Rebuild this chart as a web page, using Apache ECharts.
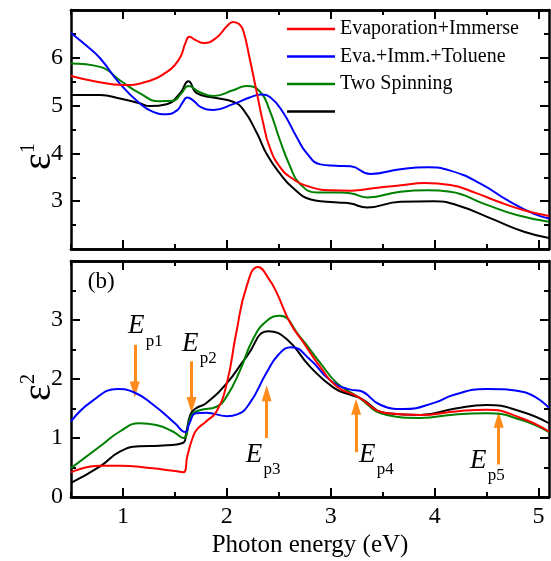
<!DOCTYPE html>
<html lang="en">
<head>
    <meta charset="UTF-8">
    <title>Dielectric function</title>
    <style>
        html, body { margin: 0; padding: 0; background: #fff; }
    </style>
</head>
<body>
<div id="main" style="width: 551px;height:561px;"></div>
<script type="text/javascript" src="https://cdn.jsdelivr.net/npm/echarts@6/dist/echarts.min.js"></script>
<script>
    // legend names (the 4th one is blank in the figure)
    var names = ['Evaporation+Immerse', 'Eva.+Imm.+Toluene', 'Two Spinning', ' '];
    var colors = ['#ff0000', '#0000ff', '#008000', '#000000'];

    // epsilon 1, [photon energy, value]
    var e1Red = [[0.5,5.62],[0.75,5.5],[1.0,5.43],[1.26,5.52],[1.42,5.7],[1.5,5.85],[1.56,6.05],[1.6,6.3],[1.64,6.44],
        [1.7,6.37],[1.78,6.31],[1.9,6.42],[2.0,6.66],[2.06,6.75],[2.12,6.7],[2.16,6.55],[2.22,5.98],[2.29,5.25],
        [2.35,4.63],[2.41,4.14],[2.51,3.72],[2.64,3.46],[2.8,3.3],[3.0,3.23],[3.2,3.22],[3.41,3.27],[3.7,3.34],
        [3.9,3.38],[4.15,3.34],[4.4,3.17],[4.6,3.0],[4.86,2.81],[5.1,2.69]];
    var e1Blue = [[0.5,6.52],[0.65,6.25],[0.78,5.99],[0.97,5.46],[1.16,5.05],[1.29,4.87],[1.42,4.82],[1.52,4.9],
        [1.57,5.05],[1.62,5.17],[1.68,5.1],[1.75,4.97],[1.87,4.91],[2.06,5.03],[2.22,5.17],[2.33,5.23],[2.42,5.17],
        [2.54,4.86],[2.67,4.35],[2.77,4.0],[2.9,3.77],[3.05,3.74],[3.19,3.73],[3.38,3.57],[3.67,3.67],[3.93,3.71],
        [4.15,3.64],[4.44,3.37],[4.7,3.02],[4.95,2.74],[5.1,2.64]];
    var e1Green = [[0.5,5.88],[0.78,5.81],[0.97,5.53],[1.16,5.26],[1.35,5.09],[1.48,5.1],[1.56,5.25],[1.63,5.41],
        [1.74,5.28],[1.87,5.2],[2.06,5.32],[2.19,5.41],[2.32,5.29],[2.41,4.91],[2.51,4.28],[2.61,3.72],[2.7,3.37],
        [2.87,3.18],[3.09,3.18],[3.2,3.16],[3.35,3.08],[3.67,3.2],[3.93,3.23],[4.15,3.2],[4.47,2.95],[4.79,2.71],
        [5.1,2.57]];
    var e1Black = [[0.5,5.22],[0.78,5.22],[0.97,5.15],[1.16,5.05],[1.26,4.99],[1.42,5.03],[1.55,5.26],[1.63,5.51],
        [1.71,5.26],[1.87,5.17],[2.06,5.08],[2.16,4.91],[2.29,4.42],[2.38,4.0],[2.51,3.58],[2.64,3.27],[2.8,3.04],
        [2.96,2.99],[3.1,2.97],[3.19,2.95],[3.35,2.87],[3.67,2.99],[3.99,3.0],[4.21,2.92],[4.54,2.64],[4.86,2.36],
        [5.1,2.23]];

    // epsilon 2
    var e2Red = [[0.5,0.42],[0.78,0.53],[0.97,0.53],[1.26,0.49],[1.5,0.44],[1.58,0.42],[1.62,0.7],[1.67,1.0],
        [1.71,1.14],[1.8,1.28],[1.9,1.45],[2.0,1.93],[2.09,2.78],[2.19,3.57],[2.3,3.9],[2.41,3.68],[2.48,3.46],
        [2.61,2.95],[2.74,2.61],[2.9,2.2],[3.06,1.87],[3.25,1.71],[3.54,1.42],[3.86,1.39],[4.2,1.45],[4.5,1.48],
        [4.83,1.34],[5.1,1.11]];
    var e2Blue = [[0.5,1.28],[0.7,1.62],[0.95,1.83],[1.1,1.78],[1.3,1.55],[1.5,1.25],[1.6,1.1],[1.64,1.25],
        [1.7,1.42],[1.8,1.43],[2.0,1.37],[2.1,1.4],[2.22,1.59],[2.38,2.1],[2.5,2.42],[2.62,2.54],[2.8,2.33],
        [3.0,1.97],[3.19,1.82],[3.28,1.8],[3.48,1.56],[3.7,1.49],[4.0,1.6],[4.18,1.73],[4.5,1.83],[4.83,1.79],
        [5.1,1.51]];
    var e2Green = [[0.5,0.49],[0.78,0.86],[0.97,1.11],[1.16,1.25],[1.32,1.22],[1.48,1.11],[1.58,1.0],[1.66,1.39],
        [1.74,1.47],[1.9,1.53],[2.0,1.71],[2.13,2.16],[2.25,2.67],[2.38,2.98],[2.51,3.07],[2.7,2.72],[2.9,2.27],
        [3.06,1.93],[3.25,1.71],[3.54,1.39],[3.86,1.34],[4.2,1.4],[4.5,1.42],[4.83,1.31],[5.1,1.1]];
    var e2Black = [[0.5,0.24],[0.78,0.52],[0.97,0.77],[1.16,0.86],[1.35,0.87],[1.58,0.92],[1.61,1.1],[1.65,1.4],
        [1.7,1.5],[1.8,1.59],[2.0,1.93],[2.19,2.38],[2.4,2.81],[2.58,2.67],[2.8,2.21],[3.03,1.85],[3.19,1.73],
        [3.28,1.68],[3.54,1.42],[3.86,1.39],[4.2,1.5],[4.5,1.56],[4.83,1.45],[5.1,1.25]];

    // tick values on x
    var xMajor = [1, 2, 3, 4, 5];
    var xMinor = [0.5, 1.5, 2.5, 3.5, 4.5];

    // E_p markers in the lower panel: arrow x, arrow start y, arrow tip y, label position
    var epSubs = ['p1', 'p2', 'p3', 'p4', 'p5'];
    var epArrowX = [1.114, 1.66, 2.383, 3.244, 4.616];
    var epArrowFrom = [2.58, 2.30, 1.0, 0.76, 0.55];
    var epArrowTo = [1.82, 1.56, 1.76, 1.53, 1.31];
    var epLabelX = [1.127, 1.648, 2.26, 3.35, 4.42];
    var epLabelY = [2.895, 2.60, 0.717, 0.72, 0.615];

    var FONT = 'Liberation Serif';
    var orange = '#ff8c1a';

    var myChart = echarts.init(document.getElementById('main'));

    function xAxisFor(g, pos, vals, len, withLabels) {
        return {
            type: 'value', gridIndex: g, position: pos, min: 0.5, max: 5.1,
            name: withLabels && g === 1 ? 'Photon energy (eV)' : '',
            nameLocation: 'middle', nameGap: 36,
            nameTextStyle: {fontFamily: FONT, fontSize: 25, color: '#000'},
            axisLine: {show: true, onZero: false, lineStyle: {color: '#000', width: 2.5}},
            axisTick: {show: true, inside: true, length: len, customValues: vals, lineStyle: {color: '#000', width: 2}},
            axisLabel: {show: withLabels && g === 1, customValues: xMajor, margin: 8,
                fontFamily: FONT, fontSize: 24, color: '#000'},
            splitLine: {show: false}
        };
    }

    function yAxisFor(g, pos, min, max, name, pad) {
        var left = pos === 'left';
        return {
            type: 'value', gridIndex: g, position: pos, min: min, max: max, interval: 1,
            name: left ? name : '',
            nameLocation: 'middle', nameRotate: 90, nameGap: 12, nameMoveOverlap: false,
            nameTextStyle: {
                color: '#000', padding: pad,
                rich: {
                    a: {fontFamily: FONT, fontSize: 40, color: '#000'},
                    b: {fontFamily: FONT, fontSize: 20, color: '#000', verticalAlign: 'top'}
                }
            },
            axisLine: {show: true, onZero: false, lineStyle: {color: '#000', width: 2.5}},
            axisTick: {show: true, inside: true, length: 9, lineStyle: {color: '#000', width: 2}},
            minorTick: {show: true, splitNumber: 2, length: 5, lineStyle: {color: '#000', width: 2}},
            axisLabel: {show: left, showMinLabel: min !== 2, showMaxLabel: false, margin: 8,
                fontFamily: FONT, fontSize: 24, color: '#000'},
            splitLine: {show: false}
        };
    }

    var xAxes = [];
    [0, 1].forEach(function (g) {
        xAxes.push(xAxisFor(g, 'bottom', xMajor, 9, true));
        xAxes.push(xAxisFor(g, 'bottom', xMinor, 5, false));
        xAxes.push(xAxisFor(g, 'top', xMajor, 9, false));
        xAxes.push(xAxisFor(g, 'top', xMinor, 5, false));
    });

    var yAxes = [
        yAxisFor(0, 'left', 2, 7, '{a|ε}{b|1}', [0, 54, 0, 0]),
        yAxisFor(0, 'right', 2, 7, '', 0),
        yAxisFor(1, 'left', 0, 4, '{a|ε}{b|2}', [0, 17, 0, 0]),
        yAxisFor(1, 'right', 0, 4, '', 0)
    ];

    var topData = [e1Red, e1Blue, e1Green, e1Black];
    var botData = [e2Red, e2Blue, e2Green, e2Black];
    var series = [];
    for (var i = 0; i < 4; i++) {
        series.push({
            name: names[i], type: 'line', xAxisIndex: 0, yAxisIndex: 0,
            data: topData[i], symbol: 'none', smooth: 0.5,
            lineStyle: {color: colors[i], width: 2}, itemStyle: {color: colors[i]}, z: 10 - i
        });
    }
    for (var j = 0; j < 4; j++) {
        series.push({
            name: names[j], type: 'line', xAxisIndex: 4, yAxisIndex: 2,
            data: botData[j], symbol: 'none', smooth: 0.5,
            lineStyle: {color: colors[j], width: 2}, itemStyle: {color: colors[j]}, z: 10 - j
        });
    }

    // arrows and E_p labels hang on the last series
    var arrows = [], labels = [];
    for (var k = 0; k < epSubs.length; k++) {
        arrows.push([{coord: [epArrowX[k], epArrowFrom[k]]}, {coord: [epArrowX[k], epArrowTo[k]]}]);
        labels.push({coord: [epLabelX[k], epLabelY[k]], label: {formatter: 'E',
            fontStyle: 'italic', fontSize: 27}});
        labels.push({coord: [epLabelX[k], epLabelY[k]], label: {formatter: epSubs[k],
            fontSize: 17, offset: [18, 15]}});
    }
    labels.push({coord: [0.79, 3.65], label: {formatter: '(b)', fontSize: 23}});

    series[7].markLine = {
        silent: true, symbol: ['none', 'triangle'], symbolSize: [10, 16],
        lineStyle: {color: orange, width: 3, type: 'solid'},
        label: {show: false}, data: arrows
    };
    series[7].markPoint = {
        silent: true, symbol: 'circle', symbolSize: 1, itemStyle: {color: 'rgba(0,0,0,0)'},
        label: {show: true, position: 'inside', fontFamily: FONT, color: '#000'},
        data: labels
    };

    var option = {
        animation: false,
        backgroundColor: '#fff',
        textStyle: {fontFamily: FONT},
        legend: {
            data: names.map(function (n) { return {name: n, icon: 'rect'}; }),
            orient: 'vertical', left: 287, top: 19,
            itemWidth: 48, itemHeight: 2.5, itemGap: 7.5, padding: 0,
            textStyle: {fontFamily: FONT, fontSize: 20, lineHeight: 20, color: '#000'},
            selectedMode: false
        },
        grid: [
            {left: 71, right: 2, top: 10, height: 239},
            {left: 71, right: 2, top: 261, height: 236}
        ],
        xAxis: xAxes,
        yAxis: yAxes,
        series: series
    };

    myChart.setOption(option);
</script>
</body>
</html>
